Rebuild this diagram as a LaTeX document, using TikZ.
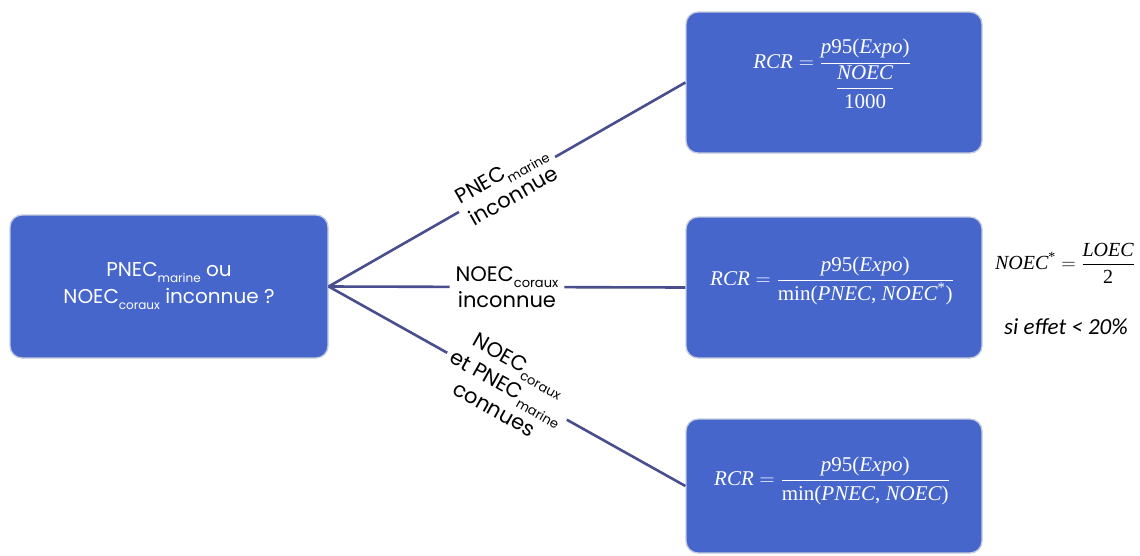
\documentclass[tikz,border=0pt]{standalone}
\usepackage{fix-cm}
\usepackage{amsmath}
\usepackage[no-math]{fontspec}
\setmainfont{Poppins}
\newfontfamily\notefont{Carlito}
\newfontfamily\eqfont{Liberation Serif}
\definecolor{boxblue}{RGB}{70,102,204}
\definecolor{boxedge}{RGB}{196,204,220}
\definecolor{branch}{RGB}{72,78,142}
% lowered small text used as an index in the labels: size, text
\newcommand\idx[2]{\raisebox{-0.3em}{\fontsize{#1}{#1}\selectfont #2}}
% variables and upright parts of the formulas
\newcommand\mv[1]{\text{\eqfont\itshape #1}}
\newcommand\mr[1]{\text{\eqfont #1}}
\begin{document}
\begin{tikzpicture}[x=1pt,y=-1pt,
  box/.style={draw=boxedge, line width=1.3pt, fill=boxblue, rounded corners=12pt,
    text=white, inner sep=0pt},
  branchline/.style={draw=branch, line width=2.6pt},
  branchlabel/.style={fill=white, inner xsep=5pt, inner ysep=2pt, align=center,
    font=\fontsize{21}{26}\selectfont, text=black, sloped},
  formula/.style={text=white, font=\fontsize{21}{25}\selectfont},
]
\useasboundingbox (0,0) rectangle (1140,555);

% question box and the three result boxes
\node[box, minimum width=318pt, minimum height=143pt] (q) at (169,286.5) {};
\node[text=white, align=center, font=\fontsize{20}{27}\selectfont] (qt) at (169,286)
  {PNEC\idx{12}{marine} ou\\NOEC\idx{12}{coraux} inconnue ?};

\node[box, minimum width=296pt, minimum height=141pt] (r1) at (834,82.5) {};
\node[box, minimum width=296pt, minimum height=141pt] (r2) at (834,287.5) {};
\node[box, minimum width=296pt, minimum height=134pt] (r3) at (834,486) {};

\node[formula] (f1) at (832,74)
  {$\displaystyle \mv{RCR}=\frac{\mv{p}\mr{95(}\mv{Expo}\mr{)}}{\dfrac{\mv{NOEC}}{\mr{1000}}}$};
\node[formula] (f2) at (832,281)
  {$\displaystyle \mv{RCR}=\frac{\mv{p}\mr{95(}\mv{Expo}\mr{)}}{\mr{min(}\mv{PNEC}\mr{, }\mv{NOEC}^{\mr{*}}\mr{)}}$};
\node[formula] (f3) at (832,481)
  {$\displaystyle \mv{RCR}=\frac{\mv{p}\mr{95(}\mv{Expo}\mr{)}}{\mr{min(}\mv{PNEC}\mr{, }\mv{NOEC}\mr{)}}$};

% side note on the estimated NOEC
\node[font=\fontsize{20}{24}\selectfont] (n1) at (1065,263)
  {$\displaystyle \mv{NOEC}^{\mr{*}}=\frac{\mv{LOEC}}{\mr{2}}$};
\node[font=\notefont\itshape\fontsize{23}{27}\selectfont] (n2) at (1066,327)
  {si effet < 20\%};

% branches with their conditions
\draw[branchline] (q.east) -- (r1.west)
  node[branchlabel, midway] (l1) {PNEC\idx{13}{marine}\\inconnue};
\draw[branchline] (q.east) -- (r2.west)
  node[branchlabel, midway, inner xsep=6pt] (l2) {NOEC\idx{13}{coraux}\\inconnue};
\draw[branchline] (q.east) -- (r3.west)
  node[branchlabel, midway] (l3) {NOEC\idx{13}{coraux}\\et PNEC\idx{13}{marine}\\connues};
\end{tikzpicture}
\end{document}
